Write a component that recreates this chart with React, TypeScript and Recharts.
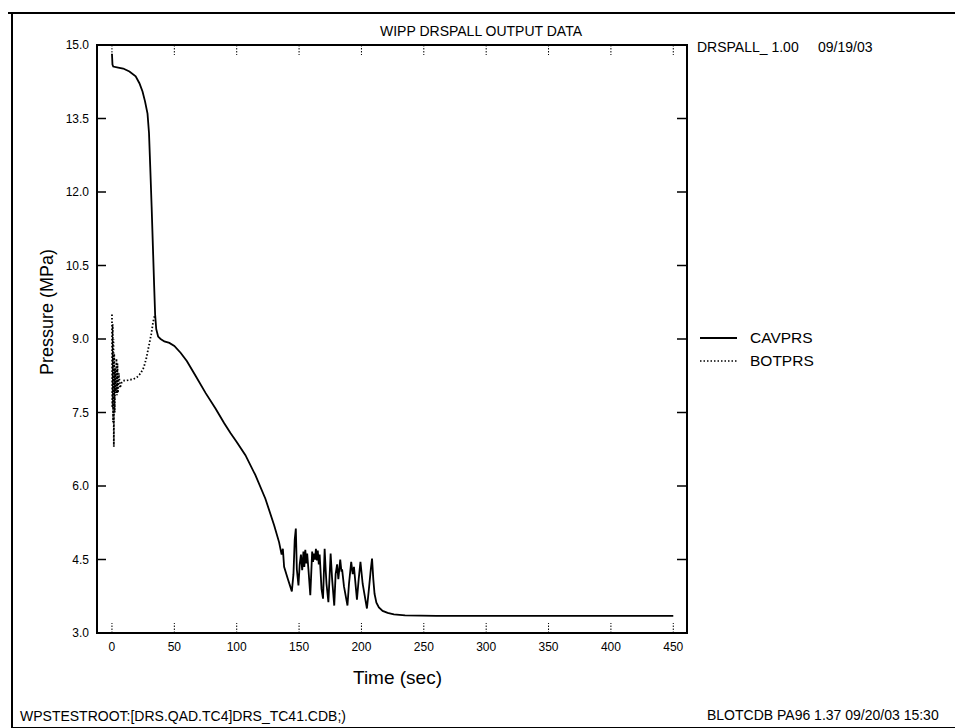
import React from "react";
import {
  LineChart,
  Line,
  XAxis,
  YAxis,
  ReferenceArea,
  Legend,
} from "recharts";

// time (sec), pressure (MPa)
const cavTime = [
  0, 0.4, 1, 5, 9, 14, 19, 22, 24.5, 26.5, 28.5, 29.7, 30.7, 31.8, 32.8, 33.8,
  34.6, 35.5, 37, 39, 42, 46, 50, 55, 60, 67, 75, 83, 90, 95, 100, 107, 115,
  123, 130, 134, 136, 137, 138, 141, 144.2, 145.5, 146.5, 147.4, 148.2, 149.5,
  150.5, 151.5, 152.5, 153.5, 154.2, 155, 155.8, 156.5, 157.5, 159, 160.5,
  161.2, 162, 162.8, 163.5, 164.3, 165, 165.8, 166.5, 168, 169.2, 170.5, 171.3,
  172, 173.5, 175.3, 176.5, 178.2, 179.3, 180.5, 181.5, 183, 184, 184.5, 186,
  188.8, 190, 191.8, 193, 194, 196.4, 197.8, 199.2, 201, 204.4, 206, 207.5,
  208.5, 209.5, 210.5, 212, 214, 217, 221, 226, 235, 260, 300, 350, 400, 450,
];
const cavprs = [
  14.82, 14.6, 14.56, 14.54, 14.52, 14.46, 14.36, 14.22, 14.05, 13.85, 13.6,
  13.2, 12.5, 11.7, 10.9, 10.1, 9.5, 9.2, 9.05, 9.0, 8.95, 8.92, 8.86, 8.72,
  8.55, 8.25, 7.9, 7.58, 7.28, 7.08, 6.9, 6.63, 6.22, 5.74, 5.2, 4.85, 4.6,
  4.72, 4.35, 4.1, 3.85, 4.2, 4.9, 5.13, 4.3, 3.97, 4.4, 4.6, 4.28, 4.66, 4.35,
  4.7, 4.42, 4.62, 4.3, 3.77, 4.66, 4.45, 4.62, 4.5, 4.72, 4.48, 4.68, 4.4,
  4.6, 3.9, 3.7, 4.72, 4.3, 4.0, 3.63, 4.62, 4.1, 3.56, 4.2, 4.4, 4.1, 4.5,
  4.25, 4.3, 3.95, 3.56, 4.0, 4.45, 4.2, 4.35, 3.68, 4.1, 4.45, 4.0, 3.5, 3.9,
  4.3, 4.52, 4.1, 3.8, 3.62, 3.52, 3.45, 3.41, 3.38, 3.36, 3.35, 3.35, 3.35,
  3.35, 3.35,
];

const botTime = [
  0, 0.3, 0.6, 0.9, 1.2, 1.5, 1.8, 2.2, 2.6, 3.2, 3.6, 4.0, 4.4, 4.8, 5.5, 6.5,
  7.5, 9, 13, 17, 20, 23, 25.5, 27.5, 29.5, 31.5, 33, 34.5,
];
const botprs = [
  9.5, 7.6, 9.3, 7.3, 9.0, 6.8, 8.7, 7.5, 8.4, 7.9, 8.6, 7.85, 8.5, 7.9, 8.3,
  8.0, 8.1, 8.15, 8.16, 8.18, 8.22, 8.3, 8.42, 8.6, 8.85, 9.1, 9.35, 9.5,
];

const xTicks = [0, 50, 100, 150, 200, 250, 300, 350, 400, 450];
const yTicks = [3.0, 4.5, 6.0, 7.5, 9.0, 10.5, 12.0, 13.5, 15.0];
const X_DOMAIN: [number, number] = [-12, 461];
const Y_DOMAIN: [number, number] = [3, 15];

const W = 955;
const H = 728;
const LEFT = 97;
const RIGHT = 687;
const TOP = 45;
const BOTTOM = 633;

const FONT = "'Liberation Sans', Arial, sans-serif";

const cavData = cavTime.map((t, i) => ({ t, v: cavprs[i] }));
const botData = botTime.map((t, i) => ({ t, v: botprs[i] }));

function YTick(props: any) {
  const { y, payload } = props;
  return (
    <g>
      <line x1={LEFT} x2={LEFT + 9} y1={y} y2={y} stroke="#000" strokeWidth={1.5} />
      <line x1={RIGHT - 10} x2={RIGHT} y1={y} y2={y} stroke="#000" strokeWidth={1.5} />
      <text
        x={LEFT - 8}
        y={y + 4}
        textAnchor="end"
        fontSize={12}
        fontFamily={FONT}
        fill="#000"
      >
        {Number(payload.value).toFixed(1)}
      </text>
    </g>
  );
}

function XTick(props: any) {
  const { x, payload } = props;
  return (
    <g>
      <line x1={x} x2={x} y1={BOTTOM} y2={BOTTOM - 10} stroke="#000" strokeWidth={1} strokeDasharray="1.5 1.5" />
      <line x1={x} x2={x} y1={TOP} y2={TOP + 10} stroke="#000" strokeWidth={1} strokeDasharray="1.5 1.5" />
      <text
        x={x}
        y={BOTTOM + 18}
        textAnchor="middle"
        fontSize={12}
        fontFamily={FONT}
        fill="#000"
      >
        {payload.value}
      </text>
    </g>
  );
}

function LegendBox() {
  const row = (label: string, dash?: string) => (
    <div style={{ display: "flex", alignItems: "center", height: 23 }}>
      <svg width={40} height={6} style={{ marginRight: 10 }}>
        <line x1={0} x2={37} y1={3} y2={3} stroke="#000" strokeWidth={dash ? 1.5 : 2} strokeDasharray={dash} />
      </svg>
      <span style={{ fontSize: 15.5, fontFamily: FONT, color: "#000" }}>{label}</span>
    </div>
  );
  return (
    <div>
      {row("CAVPRS")}
      {row("BOTPRS", "1.5 2")}
    </div>
  );
}

const txt = (extra: React.CSSProperties): React.CSSProperties => ({
  position: "absolute",
  fontFamily: FONT,
  color: "#000",
  whiteSpace: "nowrap",
  lineHeight: 1,
  ...extra,
});

export default function App() {
  return (
    <div style={{ position: "absolute", left: 0, top: 0, width: W, height: H, background: "#fff", overflow: "hidden" }}>
      {/* scanned page border */}
      <div style={{ position: "absolute", left: 8, top: 12, width: W - 8, height: 2, background: "#000" }} />
      <div style={{ position: "absolute", left: 11, top: 12, width: 2, height: H - 12, background: "#000" }} />
      <div style={{ position: "absolute", left: 11, top: 726.5, width: W - 11, height: 1.5, background: "#000" }} />

      <LineChart
        width={W}
        height={H}
        margin={{ top: TOP, right: W - RIGHT, bottom: H - BOTTOM - 30, left: LEFT - 60 }}
      >
        <XAxis
          dataKey="t"
          type="number"
          domain={X_DOMAIN}
          ticks={xTicks}
          allowDataOverflow
          axisLine={false}
          tickLine={false}
          height={30}
          tick={<XTick />}
        />
        <YAxis
          type="number"
          domain={Y_DOMAIN}
          ticks={yTicks}
          allowDataOverflow
          axisLine={false}
          tickLine={false}
          width={60}
          tick={<YTick />}
        />
        <ReferenceArea
          x1={X_DOMAIN[0]}
          x2={X_DOMAIN[1]}
          y1={Y_DOMAIN[0]}
          y2={Y_DOMAIN[1]}
          fill="none"
          stroke="#000"
          strokeWidth={2}
          fillOpacity={0}
        />
        <Line
          data={botData}
          dataKey="v"
          name="BOTPRS"
          type="linear"
          stroke="#000"
          strokeWidth={1.8}
          strokeDasharray="1.5 2"
          dot={false}
          isAnimationActive={false}
        />
        <Line
          data={cavData}
          dataKey="v"
          name="CAVPRS"
          type="linear"
          stroke="#000"
          strokeWidth={1.8}
          dot={false}
          isAnimationActive={false}
        />
        <Legend
          layout="horizontal"
          align="center"
          verticalAlign="middle"
          content={<LegendBox />}
          wrapperStyle={{ left: 700, top: 326, width: 150 }}
        />
      </LineChart>

      <div style={txt({ left: 380, top: 24, fontSize: 14 })}>WIPP DRSPALL OUTPUT DATA</div>
      <div style={txt({ left: 697, top: 40, fontSize: 14 })}>DRSPALL_ 1.00</div>
      <div style={txt({ left: 818, top: 40, fontSize: 14 })}>09/19/03</div>
      <div style={txt({ left: 353, top: 668, fontSize: 19 })}>Time (sec)</div>
      <div
        style={txt({
          left: 47,
          top: 312,
          fontSize: 18,
          transform: "translate(-50%, -50%) rotate(-90deg)",
        })}
      >
        Pressure (MPa)
      </div>
      <div style={txt({ left: 20, top: 709, fontSize: 14 })}>WPSTESTROOT:[DRS.QAD.TC4]DRS_TC41.CDB;)</div>
      <div style={txt({ left: 707, top: 708, fontSize: 14 })}>BLOTCDB PA96 1.37 09/20/03 15:30</div>
    </div>
  );
}
